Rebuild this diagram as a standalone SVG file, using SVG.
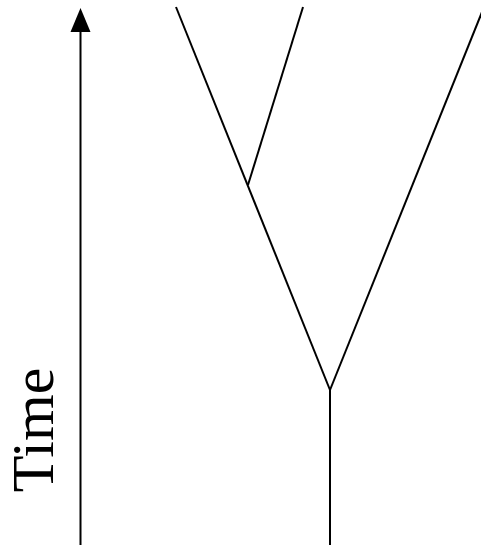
<svg xmlns="http://www.w3.org/2000/svg" width="481" height="547" viewBox="0 0 481 547">
<style>
.ln{stroke:#000;stroke-width:2;fill:none;stroke-linecap:butt}
.lbl{font-family:"Liberation Serif","Times New Roman",serif;font-size:60px;fill:#000}
</style>
<rect width="481" height="547" fill="#fff"/>
<g id="time-axis">
<line class="ln" x1="80.5" y1="545" x2="80.5" y2="30"/>
<polygon points="80.5,8 70.5,32 90.5,32" fill="#000"/>
<text class="lbl" text-anchor="middle" transform="translate(53,430) rotate(-90)">Time</text>
</g>
<g id="connectors">
<line class="ln" x1="330" y1="545" x2="330" y2="390"/>
<line class="ln" x1="330" y1="390" x2="176" y2="7"/>
<line class="ln" x1="330" y1="390" x2="484" y2="7"/>
<line class="ln" x1="248" y1="185" x2="303" y2="7"/>
</g>
</svg>
